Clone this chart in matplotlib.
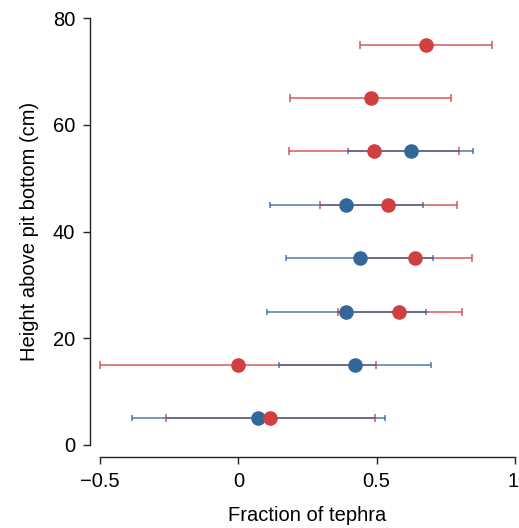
import matplotlib
matplotlib.use("Agg")
import matplotlib.pyplot as plt
from matplotlib.transforms import ScaledTranslation

plt.rcParams['font.family'] = ['Liberation Sans', 'DejaVu Sans']

# Sample heights (cm above pit bottom)
red_heights = [5, 15, 25, 35, 45, 55, 65, 75]
red_frac = [0.116, 0.000, 0.582, 0.640, 0.542, 0.491, 0.478, 0.678]
red_low = [-0.260, -0.499, 0.361, 0.436, 0.295, 0.183, 0.186, 0.438]
red_high = [0.493, 0.499, 0.807, 0.844, 0.790, 0.799, 0.768, 0.918]

blue_heights = [5, 15, 25, 35, 45, 55]
blue_frac = [0.072, 0.422, 0.390, 0.439, 0.390, 0.623]
blue_low = [-0.385, 0.146, 0.102, 0.173, 0.113, 0.398]
blue_high = [0.529, 0.698, 0.678, 0.705, 0.667, 0.850]

x_ticks = [-0.5, 0, 0.5, 1]
x_tick_labels = ['\u22120.5', '0', '0.5', '1']
y_ticks = [0, 20, 40, 60, 80]

RED = '#d13f3f'
BLUE = '#336699'

fig = plt.figure(figsize=(5.19, 5.28), dpi=100)
W, H = 519, 528
ax = fig.add_axes([100 / W, 1 - 445 / H, 415 / W, 427 / H])

red_err = [[c - lo for c, lo in zip(red_frac, red_low)],
           [hi - c for c, hi in zip(red_frac, red_high)]]
blue_err = [[c - lo for c, lo in zip(blue_frac, blue_low)],
            [hi - c for c, hi in zip(blue_frac, blue_high)]]

ax.errorbar(red_frac, red_heights, xerr=red_err, fmt='none', ecolor=RED,
            elinewidth=1.2, capsize=2.6, capthick=1.2, alpha=0.8,
            zorder=2, clip_on=False)
ax.errorbar(blue_frac, blue_heights, xerr=blue_err, fmt='none', ecolor=BLUE,
            elinewidth=1.2, capsize=2.0, capthick=1.2, alpha=0.8,
            zorder=3, clip_on=False)
ax.plot(blue_frac, blue_heights, 'o', color=BLUE, markersize=10.5,
        markeredgewidth=0, zorder=4, clip_on=False)
ax.plot(red_frac, red_heights, 'o', color=RED, markersize=10.5,
        markeredgewidth=0, zorder=5, clip_on=False)

ax.set_xlim(-0.5, 1)
ax.set_ylim(0, 80)
ax.set_xticks(x_ticks)
ax.set_xticklabels(x_tick_labels)
ax.set_yticks(y_ticks)

for s in ['top', 'right']:
    ax.spines[s].set_visible(False)
ax.spines['left'].set_position(('outward', 7.2))
ax.spines['bottom'].set_position(('outward', 8.6))
ax.spines['left'].set_bounds(0, 80)
ax.spines['bottom'].set_bounds(-0.5, 1)
for s in ['left', 'bottom']:
    ax.spines[s].set_linewidth(1.0)
    ax.spines[s].set_color('#222222')

ax.tick_params(axis='both', direction='out', length=4.8, width=1.0,
               color='#222222', labelsize=14.5)
ax.tick_params(axis='x', pad=6)
ax.tick_params(axis='y', pad=6)
ax.set_xlabel('Fraction of tephra', fontsize=14.5, labelpad=11)
ax.set_ylabel('Height above pit bottom (cm)', fontsize=14.5, labelpad=10)

# keep the rightmost tick label inside the canvas
last = ax.get_xticklabels()[-1]
last.set_transform(last.get_transform() +
                   ScaledTranslation(-2 / 100, 0, fig.dpi_scale_trans))

fig.savefig('out.png', dpi=100)
